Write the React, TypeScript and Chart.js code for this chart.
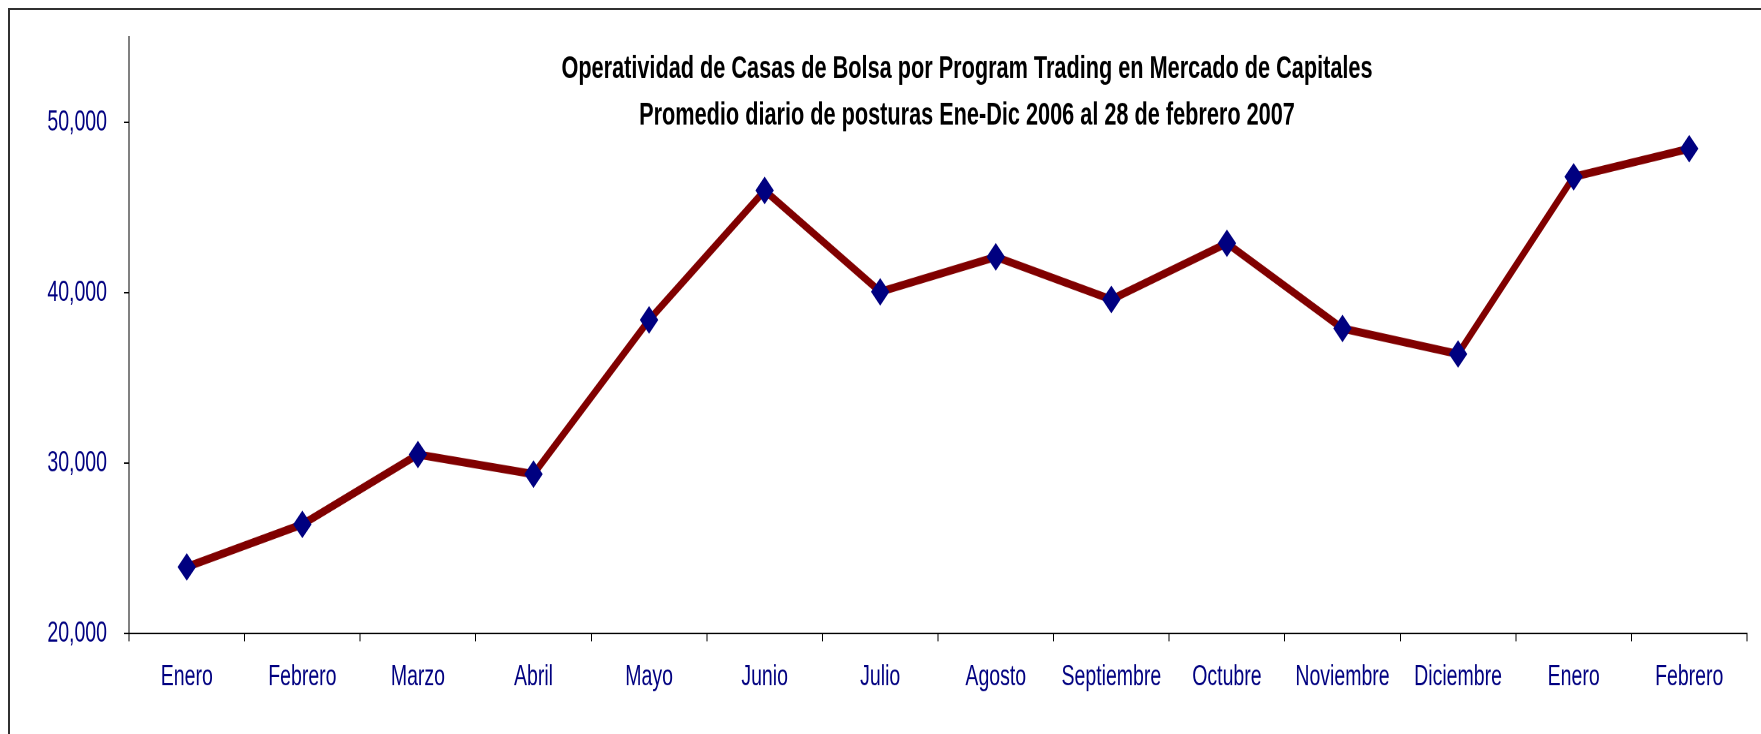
import React, { useEffect, useRef } from 'react';
import { Chart, registerables } from 'chart.js';

Chart.register(...registerables);

// ---- data ----
const categories = [
  'Enero', 'Febrero', 'Marzo', 'Abril', 'Mayo', 'Junio', 'Julio',
  'Agosto', 'Septiembre', 'Octubre', 'Noviembre', 'Diciembre', 'Enero', 'Febrero',
];
const posturas = [
  23900, 26400, 30500, 29350, 38400, 46000, 40050,
  42100, 39600, 42900, 37900, 36400, 46800, 48450,
];
const yTickValues = [20000, 30000, 40000, 50000];
const yMin = 20000;
const yMax = 55000;
const titleLines = [
  'Operatividad de Casas de Bolsa por Program Trading en Mercado de Capitales',
  'Promedio diario de posturas Ene-Dic 2006 al 28 de febrero 2007',
];

// ---- layout / style ----
const W = 1761;
const H = 734;
const STRETCH = 1.5; // vertical stretch of the drawing
const IH = Math.round(H / STRETCH);
const FONT = '"Liberation Sans", Arial, sans-serif';

const titlePlugin = {
  id: 'overlayTitle',
  afterDraw(chart: any) {
    const ctx = chart.ctx as CanvasRenderingContext2D;
    ctx.save();
    ctx.fillStyle = '#000000';
    ctx.font = `bold 21.7px ${FONT}`;
    ctx.textAlign = 'center';
    ctx.textBaseline = 'alphabetic';
    const cx = 967;
    ctx.fillText(titleLines[0], cx, 52);
    ctx.fillText(titleLines[1], cx, 83);
    ctx.restore();
  },
};

export default function App() {
  const canvasRef = useRef<HTMLCanvasElement | null>(null);

  useEffect(() => {
    const canvas = canvasRef.current;
    if (!canvas) return;
    const chart = new Chart(canvas, {
      type: 'line',
      data: {
        labels: categories,
        datasets: [
          {
            data: posturas,
            borderColor: '#800000',
            borderWidth: 5.5,
            tension: 0,
            fill: false,
            pointStyle: 'rectRot',
            pointRadius: 8.5,
            pointBackgroundColor: '#000080',
            pointBorderColor: '#000080',
            pointBorderWidth: 1,
          },
        ],
      },
      options: {
        animation: false,
        responsive: false,
        devicePixelRatio: 2,
        events: [],
        layout: { padding: { left: 0, right: 14, top: 24.7, bottom: 0 } },
        plugins: {
          legend: { display: false },
          tooltip: { enabled: false },
          title: { display: false },
        },
        scales: {
          x: {
            type: 'category',
            offset: true,
            grid: {
              display: true,
              offset: true,
              drawOnChartArea: false,
              drawTicks: true,
              tickLength: 5.3,
              color: '#000000',
              tickColor: '#000000',
              lineWidth: 1,
            },
            border: { display: true, color: '#000000', width: 1 },
            ticks: {
              color: '#000080',
              font: { family: FONT, size: 19.5 },
              padding: 12,
              maxRotation: 0,
              minRotation: 0,
              autoSkip: false,
            },
            afterFit: (scale: any) => {
              scale.height = IH - 422;
            },
          },
          y: {
            type: 'linear',
            min: yMin,
            max: yMax,
            afterBuildTicks: (scale: any) => {
              scale.ticks = yTickValues.map((value) => ({ value }));
            },
            grid: {
              display: true,
              drawOnChartArea: false,
              drawTicks: true,
              tickLength: 5,
              color: '#000000',
              tickColor: '#000000',
              lineWidth: 1,
            },
            border: { display: true, color: '#000000', width: 1 },
            ticks: {
              color: '#000080',
              font: { family: FONT, size: 19.5 },
              padding: 17,
              callback: (v: any) => Number(v).toLocaleString('en-US'),
            },
            afterFit: (scale: any) => {
              scale.width = 129;
              scale.paddingTop = 0;
              scale.paddingBottom = 0;
            },
          },
        },
      },
      plugins: [titlePlugin],
    });
    return () => {
      chart.destroy();
    };
  }, []);

  return (
    <div
      style={{
        position: 'fixed',
        left: 0,
        top: 0,
        width: W,
        height: H,
        overflow: 'hidden',
        background: '#ffffff',
      }}
    >
      <div
        style={{
          position: 'absolute',
          left: 8,
          top: 8,
          width: W,
          height: H,
          borderLeft: '2px solid #303030',
          borderTop: '2px solid #303030',
        }}
      />
      <canvas
        ref={canvasRef}
        width={W}
        height={IH}
        style={{ position: 'absolute', left: 0, top: 0, width: `${W}px`, height: `${H}px` }}
      />
    </div>
  );
}
